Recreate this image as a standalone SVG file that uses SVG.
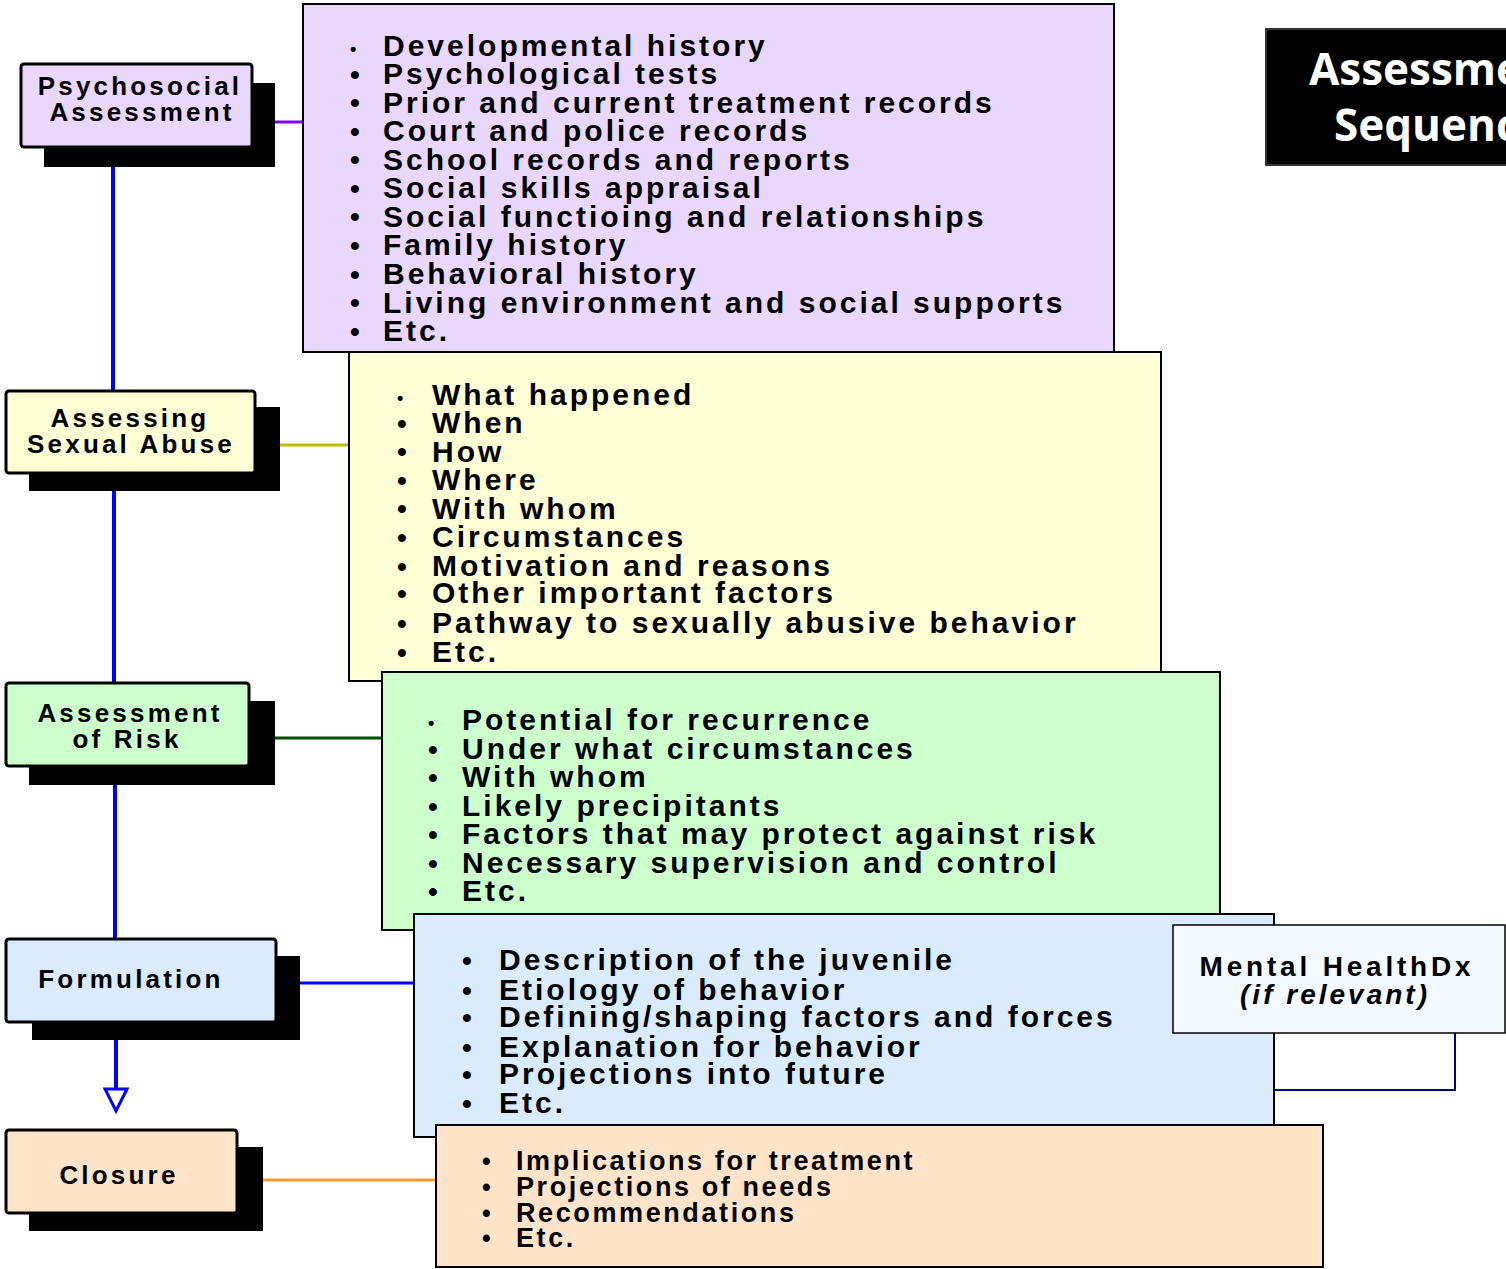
<svg xmlns="http://www.w3.org/2000/svg" width="1506" height="1269" viewBox="0 0 1506 1269">
<style>
.bx{stroke:#000;stroke-width:2}
.nd{stroke:#000;stroke-width:3}
.sh{fill:#000}
.it{font-family:"Liberation Sans",Arial,sans-serif;font-weight:bold;font-size:30px;letter-spacing:3px;fill:#000}
.it5{font-family:"Liberation Sans",Arial,sans-serif;font-weight:bold;font-size:27px;letter-spacing:2.6px;fill:#000}
.bl{font-family:"Liberation Sans",Arial,sans-serif;font-weight:bold;font-size:28px;fill:#000}
.bl5{font-family:"Liberation Sans",Arial,sans-serif;font-weight:bold;font-size:25px;fill:#000}
.bs{font-family:"Liberation Sans",Arial,sans-serif;font-weight:bold;font-size:18px;fill:#000}
.lb{font-family:"Liberation Sans",Arial,sans-serif;font-weight:bold;font-size:26px;letter-spacing:3.2px;fill:#000;text-anchor:middle}
.ttl{font-family:"Open Sans",sans-serif;font-weight:bold;font-size:44px;fill:#fff}
.vl{stroke:#0000ff;stroke-width:4;fill:none}
</style>
<defs>
<marker id="tri" markerUnits="userSpaceOnUse" markerWidth="34" markerHeight="26" refX="2" refY="13" orient="auto">
<polygon points="2,2 24,13 2,24" fill="#fff" stroke="#0000ff" stroke-width="3"/>
</marker>
</defs>
<rect width="1506" height="1269" fill="#fff"/>

<g id="connectors">
<line class="vl" x1="113" y1="147" x2="113" y2="391"/>
<line class="vl" x1="114" y1="473" x2="114" y2="683"/>
<line class="vl" x1="115" y1="766" x2="115" y2="939"/>
<line class="vl" x1="116" y1="1022" x2="116" y2="1089" marker-end="url(#tri)"/>
<line x1="275" y1="122" x2="303" y2="122" stroke="#7f00ff" stroke-width="3"/>
<line x1="280" y1="445" x2="349" y2="445" stroke="#bfbf00" stroke-width="3"/>
<line x1="275" y1="738" x2="382" y2="738" stroke="#005000" stroke-width="3"/>
<line x1="300" y1="983" x2="414" y2="983" stroke="#0000ff" stroke-width="3"/>
<line x1="263" y1="1180" x2="436" y2="1180" stroke="#ff9933" stroke-width="3"/>
<polyline points="1455,1033 1455,1090 1274,1090" fill="none" stroke="#000080" stroke-width="2"/>
</g>

<g id="title">
<rect x="1266" y="29" width="260" height="136" fill="#000" stroke="#333" stroke-width="2"/>
<text class="ttl" x="1309" y="85">Assessment</text>
<text class="ttl" x="1334" y="141">Sequence</text>
</g>

<g id="list-psychosocial">
<rect class="bx" x="303" y="4" width="811" height="348" fill="#e9d7fd"/>
<text class="bs" x="350" y="55">•</text>
<text class="bl" x="350" y="84">•</text><text class="bl" x="350" y="112">•</text><text class="bl" x="350" y="141">•</text><text class="bl" x="350" y="169">•</text><text class="bl" x="350" y="198">•</text><text class="bl" x="350" y="226">•</text><text class="bl" x="350" y="255">•</text><text class="bl" x="350" y="284">•</text><text class="bl" x="350" y="312">•</text><text class="bl" x="350" y="341">•</text>
<text class="it" x="383" y="56">Developmental history</text>
<text class="it" x="383" y="84">Psychological tests</text>
<text class="it" x="383" y="113">Prior and current treatment records</text>
<text class="it" x="383" y="141">Court and police records</text>
<text class="it" x="383" y="170">School records and reports</text>
<text class="it" x="383" y="198">Social skills appraisal</text>
<text class="it" x="383" y="227">Social functioing and relationships</text>
<text class="it" x="383" y="255">Family history</text>
<text class="it" x="383" y="284">Behavioral history</text>
<text class="it" x="383" y="313">Living environment and social supports</text>
<text class="it" x="383" y="341">Etc.</text>
</g>

<g id="list-abuse">
<rect class="bx" x="349" y="352" width="812" height="329" fill="#ffffd5"/>
<text class="bs" x="397" y="404">•</text>
<text class="bl" x="397" y="433">•</text><text class="bl" x="397" y="461">•</text><text class="bl" x="397" y="490">•</text><text class="bl" x="397" y="518">•</text><text class="bl" x="397" y="547">•</text><text class="bl" x="397" y="576">•</text><text class="bl" x="397" y="603">•</text><text class="bl" x="397" y="633">•</text><text class="bl" x="397" y="662">•</text>
<text class="it" x="432" y="405">What happened</text>
<text class="it" x="432" y="433">When</text>
<text class="it" x="432" y="462">How</text>
<text class="it" x="432" y="490">Where</text>
<text class="it" x="432" y="519">With whom</text>
<text class="it" x="432" y="547">Circumstances</text>
<text class="it" x="432" y="576">Motivation and reasons</text>
<text class="it" x="432" y="603">Other important factors</text>
<text class="it" x="432" y="633">Pathway to sexually abusive behavior</text>
<text class="it" x="432" y="662">Etc.</text>
</g>

<g id="list-risk">
<rect class="bx" x="382" y="672" width="838" height="258" fill="#ccffcc"/>
<text class="bs" x="428" y="729">•</text>
<text class="bl" x="428" y="759">•</text><text class="bl" x="428" y="787">•</text><text class="bl" x="428" y="816">•</text><text class="bl" x="428" y="844">•</text><text class="bl" x="428" y="873">•</text><text class="bl" x="428" y="901">•</text>
<text class="it" x="462" y="730">Potential for recurrence</text>
<text class="it" x="462" y="759">Under what circumstances</text>
<text class="it" x="462" y="787">With whom</text>
<text class="it" x="462" y="816">Likely precipitants</text>
<text class="it" x="462" y="844">Factors that may protect against risk</text>
<text class="it" x="462" y="873">Necessary supervision and control</text>
<text class="it" x="462" y="901">Etc.</text>
</g>

<g id="list-formulation">
<rect class="bx" x="414" y="914" width="860" height="223" fill="#daebfe"/>
<text class="bl" x="462" y="970">•</text><text class="bl" x="462" y="1000">•</text><text class="bl" x="462" y="1027">•</text><text class="bl" x="462" y="1057">•</text><text class="bl" x="462" y="1084">•</text><text class="bl" x="462" y="1113">•</text>
<text class="it" x="499" y="970">Description of the juvenile</text>
<text class="it" x="499" y="1000">Etiology of behavior</text>
<text class="it" x="499" y="1027">Defining/shaping factors and forces</text>
<text class="it" x="499" y="1057">Explanation for behavior</text>
<text class="it" x="499" y="1084">Projections into future</text>
<text class="it" x="499" y="1113">Etc.</text>
</g>

<g id="mental-health">
<rect x="1173" y="925" width="332" height="108" fill="#f4f8ff" stroke="#000" stroke-width="1.5"/>
<text x="1337" y="976" text-anchor="middle" font-family="Liberation Sans, Arial, sans-serif" font-weight="bold" font-size="28" letter-spacing="3.8">Mental HealthDx</text>
<text x="1335" y="1004" text-anchor="middle" font-family="Liberation Sans, Arial, sans-serif" font-weight="bold" font-style="italic" font-size="28" letter-spacing="3">(if relevant)</text>
</g>

<g id="list-closure">
<rect class="bx" x="436" y="1125" width="887" height="142" fill="#ffe4c9"/>
<text class="bl5" x="482" y="1170">•</text><text class="bl5" x="482" y="1196">•</text><text class="bl5" x="482" y="1222">•</text><text class="bl5" x="482" y="1247">•</text>
<text class="it5" x="516" y="1170">Implications for treatment</text>
<text class="it5" x="516" y="1196">Projections of needs</text>
<text class="it5" x="516" y="1222">Recommendations</text>
<text class="it5" x="516" y="1247">Etc.</text>
</g>

<g id="node-psychosocial">
<rect class="sh" x="44" y="83" width="231" height="84"/>
<rect class="nd" x="21" y="64" width="231" height="83" rx="3" fill="#e9d7fd"/>
<text class="lb" x="140" y="95">Psychosocial</text>
<text class="lb" x="142" y="121">Assessment</text>
</g>

<g id="node-abuse">
<rect class="sh" x="29" y="407" width="251" height="84"/>
<rect class="nd" x="6" y="391" width="249" height="82" rx="3" fill="#ffffd5"/>
<text class="lb" x="130" y="427">Assessing</text>
<text class="lb" x="131" y="453">Sexual Abuse</text>
</g>

<g id="node-risk">
<rect class="sh" x="29" y="701" width="246" height="84"/>
<rect class="nd" x="6" y="683" width="243" height="83" rx="3" fill="#ccffcc"/>
<text class="lb" x="130" y="722">Assessment</text>
<text class="lb" x="127" y="748">of Risk</text>
</g>

<g id="node-formulation">
<rect class="sh" x="32" y="956" width="268" height="84"/>
<rect class="nd" x="6" y="939" width="270" height="83" rx="3" fill="#daebfe"/>
<text class="lb" x="131" y="988">Formulation</text>
</g>

<g id="node-closure">
<rect class="sh" x="29" y="1147" width="234" height="84"/>
<rect class="nd" x="6" y="1130" width="231" height="83" rx="3" fill="#ffe4c9"/>
<text class="lb" x="119" y="1184">Closure</text>
</g>
</svg>
